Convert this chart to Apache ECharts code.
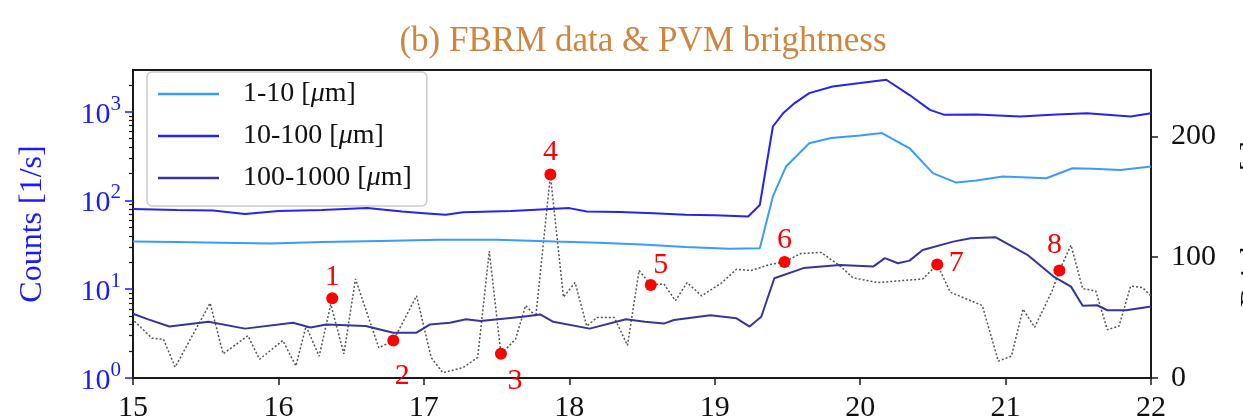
<!DOCTYPE html>
<html>
<head>
<meta charset="utf-8">
<script src="https://cdn.jsdelivr.net/npm/echarts@6/dist/echarts.min.js"></script>
<style>
  html, body { margin: 0; padding: 0; background: #fff; }
  #chart { width: 1243px; height: 416px; }
</style>
</head>
<body>
<div id="chart"></div>
<script>
// FBRM chord-length counts [1/s] for three size classes, against time
const timeSmall = [15.0, 15.3, 15.6, 15.95, 16.3, 16.7, 17.1, 17.5, 17.9, 18.2, 18.5, 18.8, 19.1, 19.31, 19.40, 19.49, 19.65, 19.8, 20.0, 20.15, 20.34, 20.5, 20.66, 20.8, 20.98, 21.15, 21.28, 21.46, 21.6, 21.79, 22.0];
const countsSmall = [34.5, 34, 33.5, 32.8, 34, 35, 36, 36, 34.5, 33.5, 32, 30, 28.5, 29, 111, 241, 442, 505, 540, 575, 387, 203, 159, 168, 186, 182, 178, 231, 228, 221, 241];

const timeMid = [15.0, 15.3, 15.55, 15.77, 16.0, 16.3, 16.61, 16.85, 17.0, 17.15, 17.27, 17.6, 18.0, 18.12, 18.35, 18.58, 18.8, 19.0, 19.23, 19.31, 19.40, 19.47, 19.55, 19.65, 19.81, 20.0, 20.18, 20.34, 20.48, 20.58, 20.8, 21.1, 21.35, 21.56, 21.86, 22.0];
const countsMid = [80, 78, 77, 70.6, 76, 78, 82, 75, 72, 69, 73.6, 76, 82, 75, 74, 72, 69, 68, 66, 89, 681, 960, 1250, 1620, 1925, 2100, 2290, 1540, 1050, 922, 930, 884, 930, 960, 884, 960];

const timeLarge = [15.0, 15.1, 15.25, 15.52, 15.77, 16.1, 16.22, 16.33, 16.6, 16.79, 16.95, 17.04, 17.18, 17.29, 17.39, 17.68, 17.80, 17.89, 18.14, 18.39, 18.52, 18.65, 18.72, 18.97, 19.15, 19.24, 19.32, 19.41, 19.61, 19.86, 20.09, 20.17, 20.26, 20.34, 20.43, 20.64, 20.76, 20.93, 21.15, 21.33, 21.45, 21.53, 21.63, 21.70, 21.83, 22.0];
const countsLarge = [5.3, 4.6, 3.8, 4.3, 3.6, 4.2, 3.7, 4.0, 3.86, 3.24, 3.24, 4.0, 4.2, 4.6, 4.4, 4.9, 5.2, 4.3, 3.6, 4.6, 4.3, 4.1, 4.5, 5.1, 4.7, 3.8, 4.9, 13.3, 17.3, 18.8, 18.0, 22.4, 19.6, 21, 27.7, 34.4, 37.6, 38.6, 24.4, 13.9, 10.7, 6.5, 6.6, 5.8, 5.8, 6.4];

// PVM image brightness (right axis)
const timeBright = [15.01, 15.13, 15.21, 15.29, 15.53, 15.62, 15.79, 15.87, 16.03, 16.12, 16.19, 16.28, 16.36, 16.45, 16.53, 16.69, 16.79, 16.95, 17.05, 17.13, 17.27, 17.37, 17.45, 17.53, 17.63, 17.70, 17.77, 17.87, 17.96, 18.04, 18.12, 18.19, 18.31, 18.40, 18.48, 18.56, 18.65, 18.73, 18.81, 18.91, 19.05, 19.15, 19.25, 19.38, 19.48, 19.59, 19.73, 19.86, 19.95, 20.12, 20.43, 20.53, 20.62, 20.84, 20.95, 21.04, 21.12, 21.20, 21.32, 21.37, 21.45, 21.53, 21.62, 21.70, 21.78, 21.86, 21.94, 22.0];
const brightness = [47, 33, 32, 9, 62, 20, 35, 15.5, 31, 10, 43, 18, 61, 20, 82, 25, 31, 68, 17, 4.4, 8.6, 17, 105, 20, 32, 60, 51, 168, 67, 79, 43, 50, 50, 27, 89, 77, 78, 64, 79, 68, 79, 90, 89, 94, 96, 103, 104, 93, 83, 79, 82, 94, 71, 60, 14, 18, 57, 42, 72, 89, 110, 74, 72, 40, 43, 76, 75, 68];

// Numbered PVM snapshots
const snapTime = [16.37, 16.79, 17.53, 17.87, 18.56, 19.48, 20.53, 21.37];
const snapBrightness = [66, 31, 20, 168.5, 77, 96, 94, 89];
const snapNames = ['1', '2', '3', '4', '5', '6', '7', '8'];

// Axis ticks
const xTicks = [15, 16, 17, 18, 19, 20, 21, 22];
const countMajorTicks = [1, 10, 100, 1000];
const countMinorTicks = [2, 3, 4, 5, 6, 7, 8, 9, 20, 30, 40, 50, 60, 70, 80, 90, 200, 300, 400, 500, 600, 700, 800, 900, 2000];
const brightTicks = [0, 100, 200];

const seriesNames = ['1-10 [μm]', '10-100 [μm]', '100-1000 [μm]'];

// where each snapshot number sits relative to its dot
const snapLabelOffset = [[0, -21], [9, 36], [14, 27], [0, -22], [10, -20], [0, -22], [19, -1], [-5, -25]];

const SERIF = '"Liberation Serif", "Times New Roman", serif';
const zip = (xs, ys) => xs.map((x, i) => [x, ys[i]]);

const chart = echarts.init(document.getElementById('chart'), null, { renderer: 'canvas' });

const logLabel = v => {
  const e = Math.round(Math.log10(v));
  return '{b|10}{s|' + e + '}';
};

chart.setOption({
  animation: false,
  backgroundColor: '#ffffff',
  title: {
    text: '(b) FBRM data & PVM brightness',
    left: 638,
    top: 19,
    textAlign: 'center',
    textStyle: { color: '#CD853F', fontFamily: SERIF, fontSize: 35, fontWeight: 'normal' }
  },
  grid: {
    left: 133, right: 92, top: 70, bottom: 38,
    containLabel: false,
    outerBoundsMode: 'none',
    show: true,
    borderColor: '#1a1a1a',
    borderWidth: 2,
    backgroundColor: 'transparent'
  },
  legend: {
    data: seriesNames,
    orient: 'vertical',
    left: 147,
    top: 72,
    padding: [8, 15, 14, 11],
    icon: 'rect',
    itemWidth: 61,
    itemHeight: 2.5,
    itemGap: 14,
    backgroundColor: 'rgba(255,255,255,0.85)',
    borderColor: '#cccccc',
    borderWidth: 1.5,
    borderRadius: 5,
    formatter: n => n.replace('μ', '{i|μ}'),
    textStyle: {
      fontFamily: SERIF, fontSize: 28, color: '#111', lineHeight: 28,
      padding: [0, 0, 0, 19],
      rich: { i: { fontFamily: SERIF, fontStyle: 'italic', fontSize: 28, color: '#111' } }
    }
  },
  xAxis: {
    type: 'value',
    min: 15, max: 22, interval: 1,
    axisLine: { show: true, lineStyle: { color: '#1a1a1a', width: 2 } },
    axisTick: { show: true, length: 7, lineStyle: { color: '#1a1a1a', width: 1.5 }, customValues: xTicks },
    axisLabel: { color: '#111', fontFamily: SERIF, fontSize: 30, margin: 15, customValues: xTicks },
    splitLine: { show: false }
  },
  yAxis: [
    {
      type: 'log', logBase: 10, min: 1, max: 2950,
      position: 'left',
      name: 'Counts [1/s]',
      nameLocation: 'middle',
      nameGap: 84,
      nameTextStyle: { color: '#1a1aff', fontFamily: SERIF, fontSize: 32 },
      axisLine: { show: true, lineStyle: { color: '#1a1a1a', width: 2 } },
      axisTick: { show: true, length: 8, lineStyle: { color: '#1a1aff', width: 1.5 }, customValues: countMajorTicks },
      axisLabel: {
        margin: 12,
        customValues: countMajorTicks,
        formatter: logLabel,
        rich: {
          b: { color: '#1a1aff', fontFamily: SERIF, fontSize: 30, lineHeight: 36, verticalAlign: 'bottom' },
          s: { color: '#1a1aff', fontFamily: SERIF, fontSize: 21, lineHeight: 20, verticalAlign: 'top' }
        }
      },
      splitLine: { show: false }
    },
    {
      type: 'log', logBase: 10, min: 1, max: 2950,
      position: 'left',
      axisLine: { show: false },
      axisTick: { show: true, length: 4, lineStyle: { color: '#1a1a1a', width: 1.2 }, customValues: countMinorTicks },
      axisLabel: { show: false },
      splitLine: { show: false }
    },
    {
      type: 'value', min: 0, max: 255,
      position: 'right',
      name: 'Brightness [-]',
      nameLocation: 'middle',
      nameRotate: 90,
      nameGap: 86,
      nameTextStyle: { color: '#111', fontFamily: SERIF, fontSize: 30 },
      axisLine: { show: true, lineStyle: { color: '#1a1a1a', width: 2 } },
      axisTick: { show: true, length: 7, lineStyle: { color: '#1a1a1a', width: 1.5 }, customValues: brightTicks },
      axisLabel: { color: '#111', fontFamily: SERIF, fontSize: 30, margin: 20, customValues: brightTicks },
      splitLine: { show: false }
    }
  ],
  series: [
    {
      name: 'PVM brightness',
      type: 'line',
      yAxisIndex: 2,
      data: zip(timeBright, brightness),
      symbol: 'none',
      lineStyle: { color: '#555', width: 1.5, type: [2, 2] },
      z: 2
    },
    {
      name: seriesNames[0],
      type: 'line',
      yAxisIndex: 0,
      data: zip(timeSmall, countsSmall),
      symbol: 'none',
      color: '#3a9bff',
      lineStyle: { color: '#3a9bff', width: 2 },
      z: 3
    },
    {
      name: seriesNames[1],
      type: 'line',
      yAxisIndex: 0,
      data: zip(timeMid, countsMid),
      symbol: 'none',
      color: '#2424ee',
      lineStyle: { color: '#2424ee', width: 2 },
      z: 3
    },
    {
      name: seriesNames[2],
      type: 'line',
      yAxisIndex: 0,
      data: zip(timeLarge, countsLarge),
      symbol: 'none',
      color: '#35359c',
      lineStyle: { color: '#35359c', width: 2 },
      z: 3
    },
    {
      name: 'snapshots',
      type: 'scatter',
      yAxisIndex: 2,
      symbolSize: 12,
      itemStyle: { color: '#ff0000', opacity: 1 },
      z: 5,
      data: snapTime.map((t, i) => ({
        value: [t, snapBrightness[i]],
        name: snapNames[i],
        label: { offset: snapLabelOffset[i] }
      })),
      label: {
        show: true,
        position: 'inside',
        formatter: p => p.name,
        color: '#ff0000',
        fontFamily: SERIF,
        fontSize: 30,
        align: 'center',
        verticalAlign: 'middle'
      }
    }
  ]
});
</script>
</body>
</html>
